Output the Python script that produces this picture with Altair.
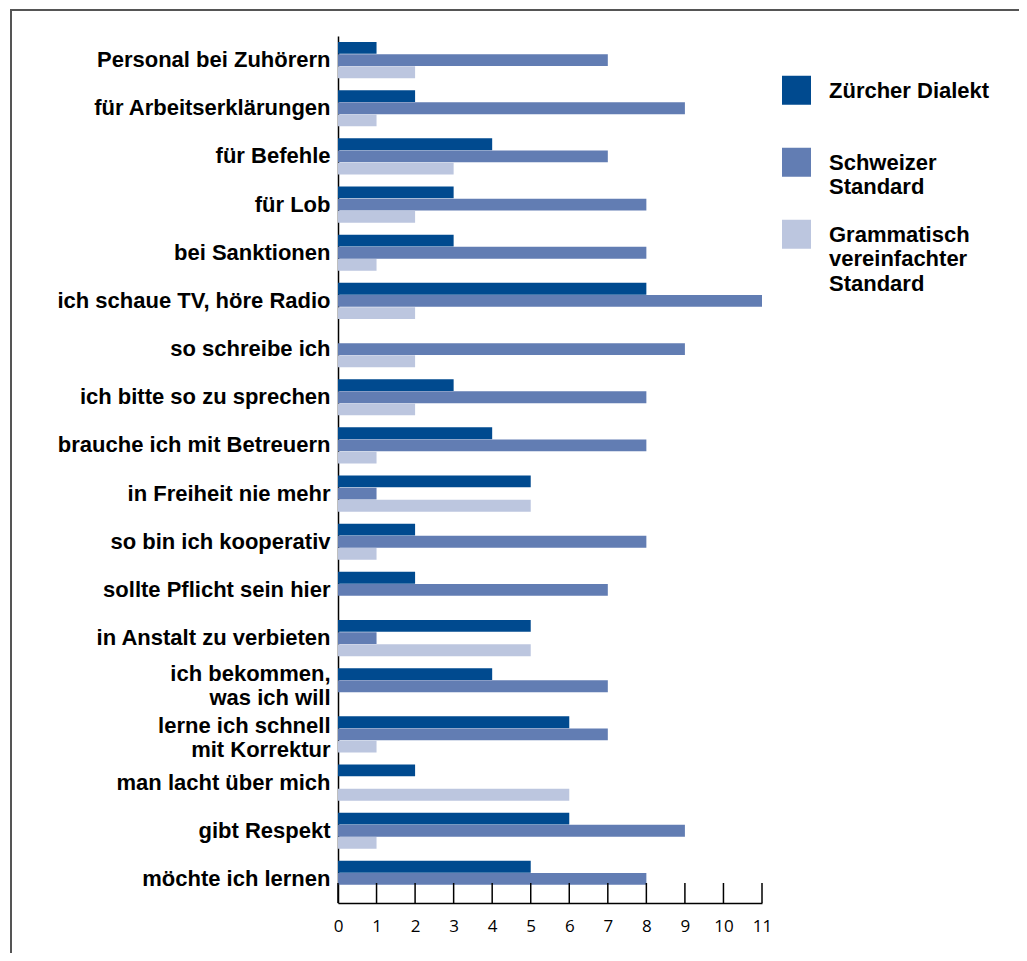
import altair as alt
import pandas as pd

categories = [
    "Personal bei Zuhörern",
    "für Arbeitserklärungen",
    "für Befehle",
    "für Lob",
    "bei Sanktionen",
    "ich schaue TV, höre Radio",
    "so schreibe ich",
    "ich bitte so zu sprechen",
    "brauche ich mit Betreuern",
    "in Freiheit nie mehr",
    "so bin ich kooperativ",
    "sollte Pflicht sein hier",
    "in Anstalt zu verbieten",
    "ich bekommen, was ich will",
    "lerne ich schnell mit Korrektur",
    "man lacht über mich",
    "gibt Respekt",
    "möchte ich lernen",
]
series = ["Zürcher Dialekt", "Schweizer Standard", "Grammatisch vereinfachter Standard"]
zuercher = [1, 2, 4, 3, 3, 8, 0, 3, 4, 5, 2, 2, 5, 4, 6, 2, 6, 5]
schweizer = [7, 9, 7, 8, 8, 11, 9, 8, 8, 1, 8, 7, 1, 7, 7, 0, 9, 8]
grammatisch = [2, 1, 3, 2, 1, 2, 2, 2, 1, 5, 1, 0, 5, 0, 1, 6, 1, 0]
ticks = list(range(0, 12))
colors = ["#004a8f", "#627db3", "#bcc6df"]

rows = []
for i, c in enumerate(categories):
    for s, vals in zip(series, [zuercher, schweizer, grammatisch]):
        rows.append({"cat": c, "series": s, "value": vals[i]})
df = pd.DataFrame(rows)
tick_df = pd.DataFrame({"value": ticks})
frame_df = pd.DataFrame({"f": [0]})

FONT_B = "Liberation Sans"

y_label_expr = (
    "datum.label == 'ich bekommen, was ich will' ? ['ich bekommen,', 'was ich will'] : "
    "datum.label == 'lerne ich schnell mit Korrektur' ? ['lerne ich schnell', 'mit Korrektur'] : datum.label"
)
y_label_offset = {
    "condition": [
        {"test": "datum.value == 'ich bekommen, was ich will'", "value": -12},
        {"test": "datum.value == 'lerne ich schnell mit Korrektur'", "value": -8},
    ],
    "value": 0,
}
legend_label_expr = (
    "datum.label == 'Zürcher Dialekt' ? ['Zürcher Dialekt', ' ', ' '] : "
    "datum.label == 'Schweizer Standard' ? ['Schweizer', 'Standard', ' '] : split(datum.label, ' ')"
)

x_axis = alt.Axis(
    title=None,
    values=ticks,
    grid=False,
    ticks=False,
    domainColor="#000000",
    domainWidth=1.5,
    labelFont="Open Sans",
    labelFontSize=17,
    labelColor="#000000",
    labelPadding=15,
    labelOverlap=False,
    labelFlush=False,
)
x_scale = alt.Scale(domain=[0, 11], nice=False)

bars = alt.Chart(df).mark_bar().encode(
    y=alt.Y(
        "cat:N",
        sort=categories,
        scale=alt.Scale(paddingInner=0.25, paddingOuter=0.125),
        axis=alt.Axis(
            title=None,
            ticks=False,
            domainColor="#000000",
            domainWidth=1.5,
            labelFont=FONT_B,
            labelFontWeight="bold",
            labelFontSize=22,
            labelColor="#000000",
            labelPadding=8,
            labelLimit=400,
            labelLineHeight=24,
            labelExpr=y_label_expr,
            labelOffset=y_label_offset,
        ),
    ),
    yOffset=alt.YOffset("series:N", sort=series, scale=alt.Scale(paddingInner=0.03)),
    x=alt.X("value:Q", scale=x_scale, axis=x_axis),
    color=alt.Color(
        "series:N",
        sort=series,
        scale=alt.Scale(domain=series, range=colors),
        legend=alt.Legend(
            title=None,
            orient="none",
            legendX=444,
            legendY=47,
            symbolType="M-1,-1.5H1V0.5H-1Z",
            symbolSize=841,
            symbolStrokeWidth=0,
            labelFont=FONT_B,
            labelFontWeight="bold",
            labelFontSize=22,
            labelColor="#000000",
            labelOffset=18,
            labelLimit=400,
            labelBaseline="alphabetic",
            rowPadding=-4,
            labelExpr=legend_label_expr,
            padding=0,
        ),
    ),
)

tick_rules = alt.Chart(tick_df).mark_rule(color="#000000", strokeWidth=1.5).encode(
    x=alt.X("value:Q", scale=x_scale, axis=x_axis),
    y=alt.value(847),
    y2=alt.value(867),
)

frame = alt.Chart(frame_df).mark_rect(fillOpacity=0, stroke="#555555", strokeWidth=2).encode(
    x=alt.value(-327),
    x2=alt.value(760),
    y=alt.value(-26),
    y2=alt.value(1000),
)

chart = alt.layer(frame, bars, tick_rules).properties(
    width=424,
    height=867,
    autosize=alt.AutoSizeParams(type="none"),
    padding={"left": 330, "top": 28, "right": 257, "bottom": 50},
).configure(
    style={"guide-label": {"lineHeight": 24.5}},
    view=alt.ViewConfig(stroke=None),
    axis=alt.AxisConfig(labelOverlap=False),
)

chart.save("out.html", embed_options={"renderer": "svg", "actions": False})
